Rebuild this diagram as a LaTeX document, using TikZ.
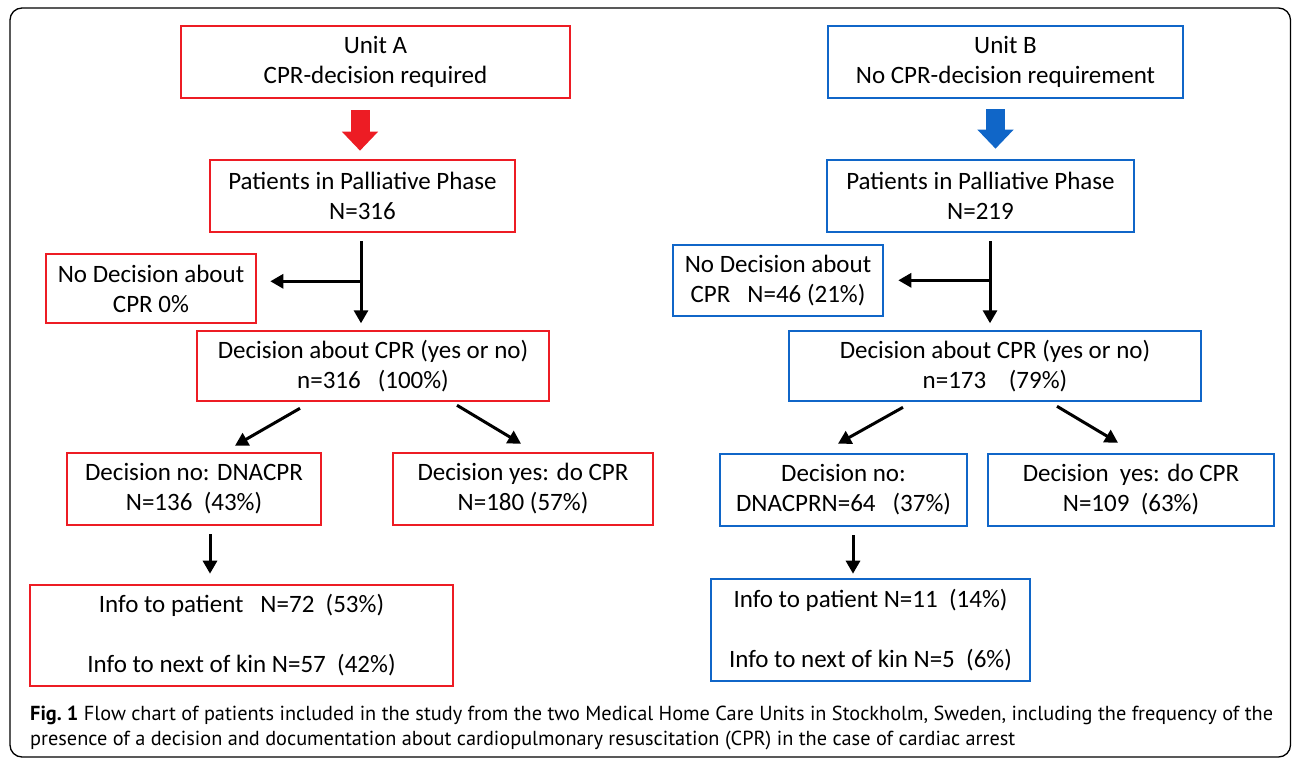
\documentclass[tikz,border=0pt]{standalone}
\usepackage{fontspec}
\setmainfont{Carlito}
\newfontfamily\capfont{PT Sans}
\usetikzlibrary{arrows.meta,calc}
\definecolor{redA}{RGB}{237,28,36}
\definecolor{blueB}{RGB}{16,102,200}
\tikzset{
  boxA/.style={draw=redA, line width=2.6pt, align=center, inner sep=0pt, font=\fontsize{25}{30}\selectfont},
  boxB/.style={draw=blueB, line width=2.6pt, align=center, inner sep=0pt, font=\fontsize{25}{30}\selectfont},
  dims/.style 2 args={minimum width=#1pt, minimum height=#2pt},
  arr/.style={line width=3pt, -{Triangle[length=13pt,width=14pt]}},
  stem/.style={line width=3pt},
  blockarr/.style={line width=19pt, -{Triangle[length=19pt,width=35pt]}}
}
\begin{document}
\begin{tikzpicture}[x=1pt,y=-1pt]
\useasboundingbox (0,0) rectangle (1292,759);
\draw[line width=1.3pt, rounded corners=12pt] (10,8) rectangle (1290.5,757);
% Unit A
\node[boxA, dims={389}{72}] (UA) at (375.5,62) {Unit A\\CPR-decision required};
\node[boxA, dims={305}{72}] (PA) at (362.5,196) {Patients in Palliative Phase\\N=316};
\node[boxA, dims={210}{69}] (NA) at (151,288.5) {No Decision about\\CPR 0\%};
\node[boxA, dims={352}{70}] (DA) at (373,366) {Decision about CPR (yes or no)\\n=316\ \ \ (100\%)};
\node[boxA, dims={254}{72}] (DnA) at (194,489) {Decision no: DNACPR\\N=136\ \ (43\%)};
\node[boxA, dims={260}{72}] (DyA) at (523,489) {Decision yes: do CPR\\N=180 (57\%)};
\node[boxA, dims={423}{101}] (IA) at (241.5,635.5) {Info to patient\ \ \ N=72\ \ (53\%)\\[30pt]Info to next of kin N=57\ \ (42\%)};
% Unit B
\node[boxB, dims={355}{72}] (UB) at (1005.5,62) {Unit B\\No CPR-decision requirement};
\node[boxB, dims={307}{72}] (PB) at (980.5,196) {Patients in Palliative Phase\\N=219};
\node[boxB, dims={210}{71}] (NB) at (778,280.5) {No Decision about\\CPR\ \ \ N=46 (21\%)};
\node[boxB, dims={412}{70}] (DB) at (995,366) {Decision about CPR (yes or no)\\n=173\ \ \ \ (79\%)};
\node[boxB, dims={247}{72}] (DnB) at (843.5,490) {Decision no:\\DNACPRN=64\ \ \ (37\%)};
\node[boxB, dims={286}{72}] (DyB) at (1131,490) {Decision\ \ yes: do CPR\\N=109\ \ (63\%)};
\node[boxB, dims={319}{102}] (IB) at (870.5,630) {Info to patient N=11\ \ (14\%)\\[30pt]Info to next of kin N=5\ \ (6\%)};
% block arrows
\draw[blockarr, draw=redA, fill=redA] ($(UA.south)+(-15.5,11)$) -- ($(PA.north)+(-2.5,-8)$);
\draw[blockarr, draw=blueB, fill=blueB] ($(UB.south)+(-10,10)$) -- ($(PB.north)+(15,-10)$);
% connectors A
\coordinate (brA) at ($(PA.south)+(-1.5,48)$);
\draw[stem] ($(PA.south)+(-1.5,8)$) -- (brA);
\draw[arr] (brA) -- ($(PA.south)+(-1.5,90)$);
\draw[arr] (brA) -- ($(brA -| NA.east)+(13,0)$);
\draw[arr] ($(DA.south)+(-73,6)$) -- ($(DnA.north)+(41,-6)$);
\draw[arr] ($(DA.south)+(84,3)$) -- ($(DyA.north)+(-2,-8)$);
\draw[arr] ($(DnA.south)+(16,8)$) -- ($(IA.north -| DnA.south)+(16,-10)$);
% connectors B
\coordinate (brB) at ($(PB.south)+(9.5,47)$);
\draw[stem] ($(PB.south)+(9.5,8)$) -- (brB);
\draw[arr] (brB) -- ($(PB.south)+(9.5,90)$);
\draw[arr] (brB) -- ($(brB -| NB.east)+(14,0)$);
\draw[arr] ($(DB.south)+(-92,5)$) -- ($(DnB.north)+(-5.5,-9)$);
\draw[arr] ($(DB.south)+(62,4)$) -- ($(DyB.north)+(-13,-10)$);
\draw[arr] ($(DnB.south)+(9.5,8)$) -- ($(IB.north -| DnB.south)+(9.5,-4)$);
% caption
\node[anchor=base west, align=left, inner sep=0pt, font=\capfont\fontsize{20.3}{25}\selectfont] (cap) at (30,745)
 {\textbf{Fig.\ 1} Flow chart of patients included in the study from the two Medical Home Care Units in Stockholm, Sweden, including the frequency of the\\
 presence of a decision and documentation about cardiopulmonary resuscitation (CPR) in the case of cardiac arrest};
\end{tikzpicture}
\end{document}
